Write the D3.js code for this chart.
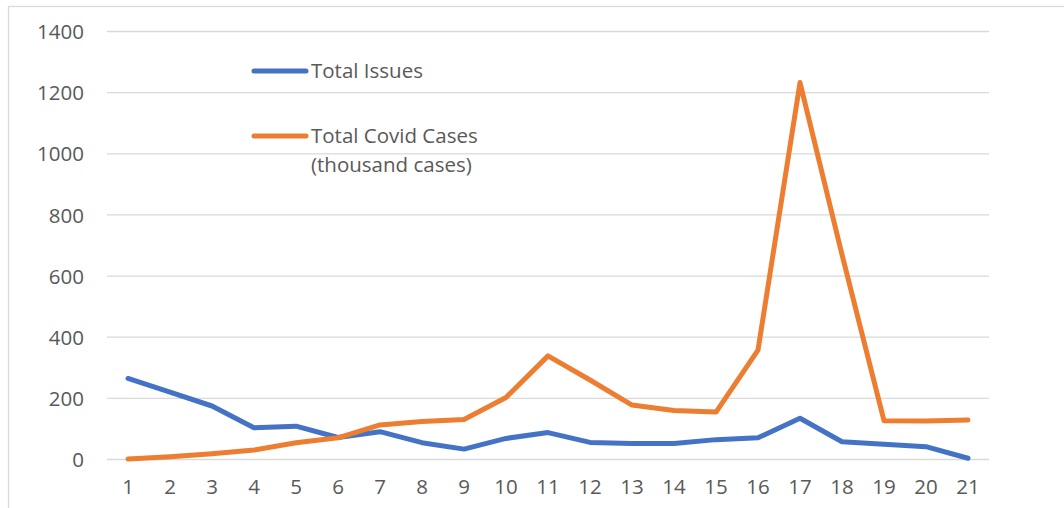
<!DOCTYPE html>
<html lang="en">
<head>
    <meta charset="utf-8">
    <title>Total Issues vs Total Covid Cases</title>
    <script src="https://d3js.org/d3.v7.min.js"></script>
    <style>
        body { margin: 0; background: #fff; }
        .grid line { stroke: #d9d9d9; stroke-width: 1.3px; }
        .tick text { fill: #595959; font-family: "Open Sans", sans-serif; font-size: 20.5px; }
        .legend text { fill: #595959; font-family: "Open Sans", sans-serif; font-size: 20.5px; }
    </style>
</head>
<body>
<div id="chart"></div>
<script>
    var weeks = ["1","2","3","4","5","6","7","8","9","10","11","12","13","14","15","16","17","18","19","20","21"];
    var totalIssues = [265, 220, 175, 104, 109, 72, 91, 55, 34, 69, 88, 56, 52, 52, 65, 71, 135, 58, 50, 42, 4];
    var covidCases = [2, 9, 19, 31, 55, 71, 113, 124, 131, 203, 339, 260, 178, 160, 155, 358, 1233, 670, 127, 126, 129];
    var yTicks = [0, 200, 400, 600, 800, 1000, 1200, 1400];

    var width = 1064, height = 508;
    var svg = d3.select("#chart").append("svg")
        .attr("width", width)
        .attr("height", height);

    // light chart-area border
    svg.append("rect")
        .attr("x", 8.5).attr("y", 6.5)
        .attr("width", 1070).attr("height", 520)
        .attr("fill", "none")
        .attr("stroke", "#d9d9d9")
        .attr("stroke-width", 1.3);

    var x = d3.scaleBand().domain(weeks).range([107, 989]);
    var y = d3.scaleLinear().domain([0, 1400]).range([459.5, 31.5]);

    // gridlines
    svg.append("g").attr("class", "grid")
        .selectAll("line").data(yTicks).enter().append("line")
        .attr("x1", 107).attr("x2", 989)
        .attr("y1", function(d) { return y(d); })
        .attr("y2", function(d) { return y(d); });

    var yAxis = svg.append("g")
        .attr("transform", "translate(84,0)")
        .call(d3.axisLeft(y).tickValues(yTicks).tickFormat(d3.format("d")).tickSize(0).tickPadding(0));
    yAxis.select(".domain").remove();
    yAxis.selectAll("text").attr("dy", "0.35em");

    var xAxis = svg.append("g")
        .attr("transform", "translate(0,480)")
        .call(d3.axisBottom(x).tickSize(0).tickPadding(0));
    xAxis.select(".domain").remove();
    xAxis.selectAll("text").attr("dy", "0.7em");

    var line = d3.line()
        .x(function(d, i) { return x(weeks[i]) + x.bandwidth() / 2; })
        .y(function(d) { return y(d); });

    var series = [
        { name: "Total Issues", values: totalIssues, color: "#4472c4" },
        { name: "Total Covid Cases", values: covidCases, color: "#ed7d31" }
    ];

    svg.selectAll(".series").data(series).enter().append("path")
        .attr("class", "series")
        .attr("d", function(d) { return line(d.values); })
        .attr("fill", "none")
        .attr("stroke", function(d) { return d.color; })
        .attr("stroke-width", 5)
        .attr("stroke-linejoin", "round")
        .attr("stroke-linecap", "round");

    // legend
    var legend = svg.append("g").attr("class", "legend");
    legend.append("line")
        .attr("x1", 254).attr("x2", 306).attr("y1", 71).attr("y2", 71)
        .attr("stroke", "#4472c4").attr("stroke-width", 5).attr("stroke-linecap", "round");
    legend.append("text").attr("x", 311).attr("y", 78).text("Total Issues");
    legend.append("line")
        .attr("x1", 254).attr("x2", 306).attr("y1", 136).attr("y2", 136)
        .attr("stroke", "#ed7d31").attr("stroke-width", 5).attr("stroke-linecap", "round");
    legend.append("text").attr("x", 311).attr("y", 143).text("Total Covid Cases");
    legend.append("text").attr("x", 311).attr("y", 172).text("(thousand cases)");
</script>
</body>
</html>
